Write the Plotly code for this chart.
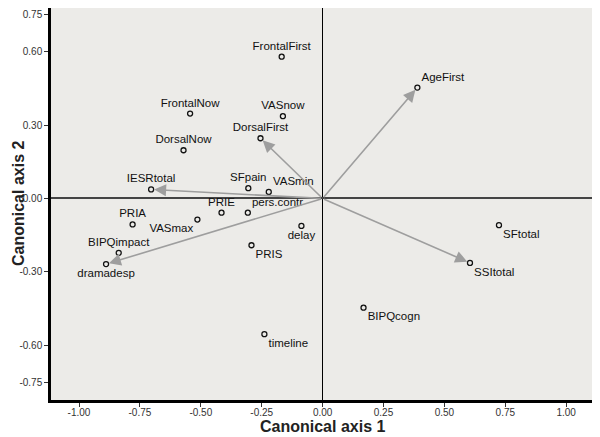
import plotly.graph_objects as go

# Variables and their canonical scores
names = ['FrontalFirst', 'AgeFirst', 'FrontalNow', 'VASnow', 'DorsalFirst', 'DorsalNow',
         'IESRtotal', 'SFpain', 'VASmin', 'PRIE', 'pers.contr', 'PRIA', 'VASmax',
         'BIPQimpact', 'dramadesp', 'PRIS', 'delay', 'timeline', 'SFtotal', 'SSItotal',
         'BIPQcogn']
axis1 = [-0.168, 0.389, -0.544, -0.163, -0.255, -0.571,
         -0.704, -0.305, -0.221, -0.415, -0.307, -0.780, -0.514,
         -0.837, -0.889, -0.292, -0.087, -0.239, 0.724, 0.605,
         0.168]
axis2 = [0.579, 0.453, 0.347, 0.336, 0.246, 0.197,
         0.037, 0.042, 0.027, -0.058, -0.058, -0.106, -0.086,
         -0.222, -0.268, -0.191, -0.112, -0.554, -0.109, -0.263,
         -0.446]
label_pos = ['top center', 'top right', 'top center', 'top center', 'top center', 'top center',
             'top center', 'top center', 'top right', 'top center', 'top right', 'top center',
             'bottom left', 'top center', 'bottom center', 'bottom right', 'bottom center',
             'bottom right', 'bottom right', 'bottom right', 'bottom right']

# variables drawn as vectors from the origin
vectors = ['AgeFirst', 'DorsalFirst', 'IESRtotal', 'dramadesp', 'SSItotal']

x_ticks = [-1.0, -0.75, -0.5, -0.25, 0.0, 0.25, 0.5, 0.75, 1.0]
x_ticktext = ['-1.00', '-0.75', '-0.50', '-0.25', '0.00', '0.25', '0.50', '0.75', '1.00']
y_ticks = [-0.75, -0.6, -0.3, 0.0, 0.3, 0.6, 0.75]
y_ticktext = ['-0.75', '-0.60', '-0.30', '0.00', '0.30', '0.60', '0.75']

fig = go.Figure()

fig.add_trace(go.Scatter(
    x=axis1, y=axis2, text=names, mode='markers+text',
    textposition=label_pos,
    textfont=dict(family='Liberation Sans, Arial', size=11.5, color='#111111'),
    marker=dict(symbol='circle-open', size=5, color='#111111', line=dict(width=1.3)),
    hoverinfo='text', showlegend=False,
))

for v in vectors:
    i = names.index(v)
    fig.add_annotation(
        x=axis1[i], y=axis2[i], ax=0, ay=0, xref='x', yref='y', axref='x', ayref='y',
        text='', showarrow=True, arrowhead=2, arrowsize=1.5, arrowwidth=1.6,
        arrowcolor='#9e9e9e', standoff=3,
    )

# axis titles
fig.add_annotation(text='<b>Canonical axis 1</b>', x=0.5, y=0, xref='paper', yref='paper',
                   yanchor='middle', yshift=-26, showarrow=False,
                   font=dict(size=16, color='#222222'))
fig.add_annotation(text='<b>Canonical axis 2</b>', x=0, y=0.5, xref='paper', yref='paper',
                   xanchor='center', xshift=-33, textangle=-90, showarrow=False,
                   font=dict(size=16, color='#222222'))

# page body has an 8px margin, so the figure is a bit smaller than the window
fig.update_layout(
    width=592, height=429,
    margin=dict(l=43, r=7, t=0, b=37),
    paper_bgcolor='white', plot_bgcolor='#ecebe8',
    font=dict(family='Liberation Sans, Arial', color='#222222'),
)
axis_style = dict(
    showgrid=False, showline=True, mirror=True, linecolor='black', linewidth=2.5,
    ticks='outside', ticklen=4, tickcolor='#333333', tickwidth=1,
    tickfont=dict(size=10, color='#333333'), automargin=False,
)
fig.update_xaxes(
    range=[-1.115, 1.11], tickvals=x_ticks, ticktext=x_ticktext,
    zeroline=True, zerolinecolor='black', zerolinewidth=1.3, ticklabelstandoff=-3,
    **axis_style,
)
fig.update_yaxes(
    range=[-0.823, 0.778], tickvals=y_ticks, ticktext=y_ticktext,
    zeroline=True, zerolinecolor='#444444', zerolinewidth=1.8,
    **axis_style,
)

fig.write_html('out.html')
